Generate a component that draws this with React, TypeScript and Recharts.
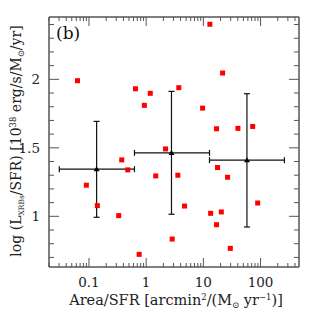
import { ScatterChart, Scatter, XAxis, YAxis, ErrorBar } from "recharts"

// individual galaxies (red squares)
const pointX = [0.063, 0.65, 1.18, 0.93, 13.0, 21.7, 3.72, 9.7, 17.0, 40.2, 72.8, 2.18, 0.374, 0.476, 1.47, 0.09, 0.14, 0.331, 2.85, 0.754, 17.7, 26.5, 3.58, 4.69, 13.4, 20.6, 17.0, 89, 29.6]
const pointY = [1.99, 1.931, 1.898, 1.81, 2.402, 2.046, 1.939, 1.79, 1.639, 1.642, 1.656, 1.492, 1.412, 1.339, 1.295, 1.227, 1.078, 1.005, 0.834, 0.722, 1.356, 1.285, 1.3, 1.075, 1.022, 1.032, 0.939, 1.097, 0.766]

// binned averages (black triangles)
const binX = [0.136, 2.77, 57.8]
const binY = [1.344, 1.463, 1.41]
const binXLow = [0.0303, 0.624, 12.8]
const binXHigh = [0.624, 12.8, 261]
const binYLow = [0.993, 1.015, 0.922]
const binYHigh = [1.693, 1.912, 1.895]

const xTicks = [0.02, 0.03, 0.04, 0.05, 0.06, 0.07, 0.08, 0.09, 0.1, 0.2, 0.3, 0.4, 0.5, 0.6, 0.7, 0.8, 0.9, 1, 2, 3, 4, 5, 6, 7, 8, 9, 10, 20, 30, 40, 50, 60, 70, 80, 90, 100, 200, 300, 400]
const xMajor = [0.1, 1, 10, 100]
const yTicks = [0.7, 0.8, 0.9, 1, 1.1, 1.2, 1.3, 1.4, 1.5, 1.6, 1.7, 1.8, 1.9, 2, 2.1, 2.2, 2.3, 2.4]
const yMajor = [1, 1.5, 2]

const points = pointX.map((x, i) => ({ x, y: pointY[i] }))
const bins = binX.map((x, i) => ({
  x,
  y: binY[i],
  ex: [x - binXLow[i], binXHigh[i] - x],
  ey: [binY[i] - binYLow[i], binYHigh[i] - binY[i]],
}))

const FONT = "DejaVu Serif"
const AXIS = "#555"
const TXT = "#222"

const isMajor = (v: number, list: number[]) => list.some((m) => Math.abs(m - v) < 1e-9)

function BottomTick({ x, y, payload }: any) {
  const major = isMajor(payload.value, xMajor)
  return (
    <g>
      <line x1={x} x2={x} y1={y} y2={y - (major ? 9 : 4)} stroke={AXIS} strokeWidth={1} />
      {major && (
        <text x={x} y={y + 20} textAnchor="middle" fontFamily={FONT} fontSize={13.5} fill={TXT}>
          {payload.value}
        </text>
      )}
    </g>
  )
}

function TopTick({ x, y, payload }: any) {
  const major = isMajor(payload.value, xMajor)
  return <line x1={x} x2={x} y1={y} y2={y + (major ? 9 : 4)} stroke={AXIS} strokeWidth={1} />
}

function LeftTick({ x, y, payload }: any) {
  const major = isMajor(payload.value, yMajor)
  return (
    <g>
      <line x1={x} x2={x + (major ? 10 : 5)} y1={y} y2={y} stroke={AXIS} strokeWidth={1} />
      {major && (
        <text x={x - 9} y={y + 5} textAnchor="end" fontFamily={FONT} fontSize={13.5} fill={TXT}>
          {payload.value}
        </text>
      )}
    </g>
  )
}

function RightTick({ x, y, payload }: any) {
  const major = isMajor(payload.value, yMajor)
  return <line x1={x} x2={x - (major ? 10 : 5)} y1={y} y2={y} stroke={AXIS} strokeWidth={1} />
}

function Square({ cx, cy }: any) {
  return <rect x={cx - 2.5} y={cy - 2.5} width={5} height={5} fill="#ff0000" />
}

function Triangle({ cx, cy }: any) {
  return <polygon points={`${cx},${cy - 3} ${cx - 3},${cy + 2} ${cx + 3},${cy + 2}`} fill="#000" />
}

export default function App() {
  return (
    <ScatterChart width={308} height={308} margin={{ top: 8, right: 16, bottom: 19, left: 11 }}>
      <XAxis
        xAxisId="b"
        dataKey="x"
        type="number"
        scale="log"
        domain={[0.02, 470]}
        allowDataOverflow
        ticks={xTicks}
        interval={0}
        tick={BottomTick}
        tickLine={false}
        tickSize={0}
        tickMargin={0}
        height={30}
        axisLine={{ stroke: AXIS, strokeWidth: 1.5 }}
      />
      <XAxis
        xAxisId="t"
        orientation="top"
        dataKey="x"
        type="number"
        scale="log"
        domain={[0.02, 470]}
        allowDataOverflow
        ticks={xTicks}
        interval={0}
        tick={TopTick}
        tickLine={false}
        tickSize={0}
        tickMargin={0}
        height={1}
        axisLine={{ stroke: AXIS, strokeWidth: 1.5 }}
      />
      <YAxis
        yAxisId="l"
        dataKey="y"
        type="number"
        domain={[0.63, 2.455]}
        allowDataOverflow
        ticks={yTicks}
        interval={0}
        tick={LeftTick}
        tickLine={false}
        tickSize={0}
        tickMargin={0}
        width={30}
        axisLine={{ stroke: AXIS, strokeWidth: 1.5 }}
      />
      <YAxis
        yAxisId="r"
        orientation="right"
        dataKey="y"
        type="number"
        domain={[0.63, 2.455]}
        allowDataOverflow
        ticks={yTicks}
        interval={0}
        tick={RightTick}
        tickLine={false}
        tickSize={0}
        tickMargin={0}
        width={1}
        axisLine={{ stroke: AXIS, strokeWidth: 1.5 }}
      />
      <Scatter data={points} xAxisId="b" yAxisId="l" shape={Square} isAnimationActive={false} />
      <Scatter data={bins} xAxisId="b" yAxisId="l" shape={Triangle} isAnimationActive={false}>
        <ErrorBar dataKey="ex" direction="x" width={3} stroke="#111" strokeWidth={1.2} />
        <ErrorBar dataKey="ey" direction="y" width={3} stroke="#111" strokeWidth={1.2} />
      </Scatter>
      <text x={48} y={31} fontFamily={FONT} fontSize={17} fill="#111">(b)</text>
      <text x={168} y={297} textAnchor="middle" fontFamily={FONT} fontSize={14.5} fill={TXT}>
        Area/SFR [arcmin
        <tspan dy={-5} fontSize={8.5}>2</tspan>
        <tspan dy={5}>/(M</tspan>
        <tspan dy={3} fontSize={8.5}>⊙</tspan>
        <tspan dy={-3}> yr</tspan>
        <tspan dy={-5} fontSize={8.5}>−1</tspan>
        <tspan dy={5}>)]</tspan>
      </text>
      <text
        transform="translate(13, 133) rotate(-90)"
        textAnchor="middle"
        fontFamily={FONT}
        fontSize={14}
        fill={TXT}
      >
        log (L
        <tspan dy={3} fontSize={7.5}>XRBs</tspan>
        <tspan dy={-3}>/SFR) [10</tspan>
        <tspan dy={-5} fontSize={8.5}>38</tspan>
        <tspan dy={5}> erg/s/M</tspan>
        <tspan dy={3} fontSize={8.5}>⊙</tspan>
        <tspan dy={-3}>/yr]</tspan>
      </text>
    </ScatterChart>
  )
}
